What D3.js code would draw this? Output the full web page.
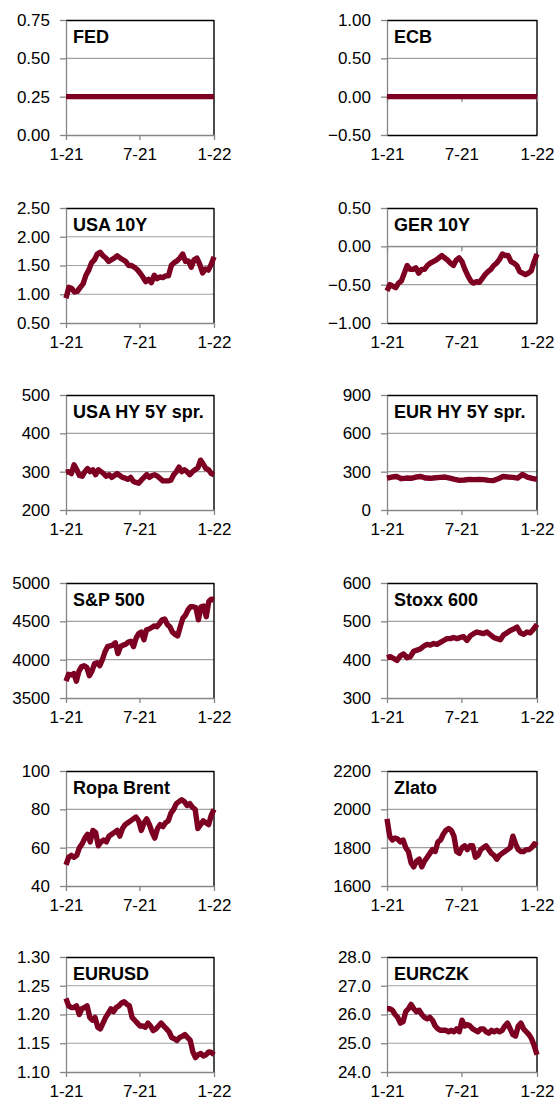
<!DOCTYPE html>
<html><head><meta charset="utf-8">
<script src="https://cdn.jsdelivr.net/npm/d3@7"></script>
<style>
body{margin:0;background:#fff}
svg{display:block}
text{font-family:"Liberation Sans",Arial,Helvetica,sans-serif}
</style>
</head><body>
<svg id="c" width="555" height="1102"></svg>
<script>
// ---------- DATA ----------
const xTickDates = ["2021-01-01", "2021-07-01", "2022-01-01"];
const xTickLabels = ["1-21", "7-21", "1-22"];
const seriesStart = "2021-01-01";
const seriesEnd = "2022-01-01";

const fedTicks = [0, 0.25, 0.5, 0.75];
const ecbTicks = [-0.5, 0, 0.5, 1.0];
const usa10yTicks = [0.5, 1.0, 1.5, 2.0, 2.5];
const ger10yTicks = [-1.0, -0.5, 0, 0.5];
const usaHyTicks = [200, 300, 400, 500];
const eurHyTicks = [0, 300, 600, 900];
const spxTicks = [3500, 4000, 4500, 5000];
const stoxxTicks = [300, 400, 500, 600];
const brentTicks = [40, 60, 80, 100];
const goldTicks = [1600, 1800, 2000, 2200];
const eurusdTicks = [1.10, 1.15, 1.20, 1.25, 1.30];
const eurczkTicks = [24, 25, 26, 27, 28];

const fed = [0.25,0.25,0.25,0.25,0.25,0.25,0.25,0.25,0.25,0.25,0.25,0.25,0.25];
const ecb = [0,0,0,0,0,0,0,0,0,0,0,0,0];
const usa10y = [0.93,1.12,1.10,1.04,1.05,1.12,1.18,1.33,1.42,1.55,1.60,1.70,1.73,1.67,1.63,1.57,1.60,1.63,1.67,1.63,1.60,1.57,1.50,1.50,1.47,1.43,1.37,1.30,1.22,1.26,1.20,1.33,1.27,1.30,1.29,1.32,1.32,1.50,1.55,1.58,1.63,1.70,1.57,1.58,1.47,1.60,1.63,1.52,1.37,1.44,1.42,1.52,1.65];
const ger10y = [-0.58,-0.50,-0.52,-0.54,-0.48,-0.45,-0.35,-0.25,-0.30,-0.30,-0.28,-0.35,-0.30,-0.30,-0.25,-0.22,-0.20,-0.18,-0.15,-0.12,-0.15,-0.18,-0.22,-0.25,-0.18,-0.15,-0.20,-0.30,-0.38,-0.45,-0.48,-0.46,-0.47,-0.42,-0.37,-0.33,-0.30,-0.25,-0.22,-0.17,-0.10,-0.12,-0.12,-0.20,-0.22,-0.25,-0.33,-0.35,-0.37,-0.35,-0.32,-0.20,-0.10];
const usaHy = [298,300,295,318,305,290,288,300,308,300,305,292,305,300,295,288,292,285,290,295,290,285,283,280,285,275,272,270,278,285,292,285,290,292,288,282,276,276,276,278,292,300,312,300,305,300,292,300,305,310,330,320,308,305,295,292];
const eurHy = [250,258,262,245,250,248,258,262,250,248,252,255,258,250,240,232,235,240,238,240,238,232,230,245,262,258,255,250,278,258,248,240];
const spx = [3720,3810,3800,3820,3720,3850,3910,3920,3900,3790,3850,3950,3960,3920,4000,4100,4170,4180,4190,4220,4080,4170,4190,4200,4230,4240,4170,4280,4340,4360,4260,4390,4400,4420,4440,4430,4470,4520,4530,4460,4430,4360,4330,4310,4430,4540,4580,4650,4690,4690,4680,4520,4690,4700,4560,4760,4790,4780];
const stoxx = [405,408,403,398,410,415,405,408,422,425,428,435,440,438,442,440,445,450,455,455,458,455,458,460,450,462,468,472,470,468,472,465,458,455,452,465,470,476,480,485,470,466,472,470,480,492];
const brent = [51,55,56,55,56,60,62,65,67,63,69,68,61,63,64,63,66,67,68,69,66,70,72,73,74,75,76,74,69,73,75,72,68,65,70,72,71,73,74,78,80,83,84,85,84,82,83,81,80,70,72,74,73,72,77,80];
const gold = [1950,1860,1840,1850,1845,1830,1840,1800,1780,1720,1700,1730,1740,1700,1730,1750,1770,1790,1780,1830,1840,1870,1890,1900,1890,1860,1780,1770,1800,1810,1790,1810,1810,1750,1760,1790,1800,1810,1790,1770,1760,1740,1760,1770,1780,1790,1800,1860,1820,1790,1780,1780,1790,1790,1800,1820,1810];
const eurusd = [1.228,1.215,1.212,1.212,1.215,1.200,1.210,1.212,1.215,1.195,1.190,1.195,1.178,1.175,1.185,1.195,1.202,1.210,1.205,1.212,1.215,1.220,1.222,1.218,1.215,1.195,1.190,1.185,1.180,1.180,1.178,1.185,1.180,1.172,1.175,1.180,1.185,1.180,1.175,1.170,1.160,1.158,1.155,1.160,1.162,1.165,1.160,1.155,1.135,1.125,1.130,1.132,1.128,1.130,1.135,1.134,1.130];
const eurczk = [26.2,26.2,26.15,26.0,25.9,25.7,25.75,26.1,26.2,26.35,26.2,26.1,26.15,26.0,25.9,25.85,25.9,25.8,25.6,25.5,25.45,25.45,25.45,25.4,25.45,25.4,25.5,25.4,25.8,25.6,25.65,25.6,25.5,25.45,25.4,25.5,25.5,25.4,25.35,25.45,25.4,25.45,25.4,25.45,25.6,25.7,25.5,25.3,25.25,25.6,25.7,25.5,25.4,25.3,25.15,24.9,24.6];

// ---------- LAYOUT ----------
const panels = [
  {title:"FED", values:fed, ticks:fedTicks, fmt:".2f", col:0, row:0},
  {title:"ECB", values:ecb, ticks:ecbTicks, fmt:".2f", col:1, row:0, zeroAxis:true},
  {title:"USA 10Y", values:usa10y, ticks:usa10yTicks, fmt:".2f", col:0, row:1},
  {title:"GER 10Y", values:ger10y, ticks:ger10yTicks, fmt:".2f", col:1, row:1, zeroAxis:true},
  {title:"USA HY 5Y spr.", values:usaHy, ticks:usaHyTicks, fmt:"d", col:0, row:2},
  {title:"EUR HY 5Y spr.", values:eurHy, ticks:eurHyTicks, fmt:"d", col:1, row:2},
  {title:"S&P 500", values:spx, ticks:spxTicks, fmt:"d", col:0, row:3},
  {title:"Stoxx 600", values:stoxx, ticks:stoxxTicks, fmt:"d", col:1, row:3},
  {title:"Ropa Brent", values:brent, ticks:brentTicks, fmt:"d", col:0, row:4},
  {title:"Zlato", values:gold, ticks:goldTicks, fmt:"d", col:1, row:4},
  {title:"EURUSD", values:eurusd, ticks:eurusdTicks, fmt:".2f", col:0, row:5},
  {title:"EURCZK", values:eurczk, ticks:eurczkTicks, fmt:".1f", col:1, row:5}
];
const colX = [66, 387];
const colW = [148, 150];
const rowY = [20, 208, 395, 583, 771, 957];
const plotH = 115;
const lineColor = "#7d0022";
const axisGray = "#868686";
const gridGray = "#a0a0a0";

const parse = d3.utcParse("%Y-%m-%d");
const t0 = parse(seriesStart), t1 = parse(seriesEnd);
const xTicks = xTickDates.map(parse);

const svg = d3.select("#c");

panels.forEach(p => {
  const w = colW[p.col];
  const g = svg.append("g").attr("transform", `translate(${colX[p.col]},${rowY[p.row]})`);
  const x = d3.scaleUtc().domain([t0, t1]).range([0, w]);
  const y = d3.scaleLinear().domain([p.ticks[0], p.ticks[p.ticks.length - 1]]).range([plotH, 0]);
  const n = p.values.length;
  const pts = p.values.map((v, i) => ({d: new Date(+t0 + (t1 - t0) * i / (n - 1)), v}));

  // gridlines
  g.append("g").selectAll("line").data(p.ticks.slice(1, -1)).join("line")
    .attr("x1", 0).attr("x2", w).attr("y1", d => y(d)).attr("y2", d => y(d))
    .attr("stroke", gridGray).attr("stroke-width", 1.2);

  // top and right border
  g.append("line").attr("x1", 0).attr("x2", w).attr("y1", 0.5).attr("y2", 0.5)
    .attr("stroke", "#000").attr("stroke-width", 1.4);
  g.append("line").attr("x1", w).attr("x2", w).attr("y1", 0).attr("y2", plotH)
    .attr("stroke", "#000").attr("stroke-width", 1.4);

  // left axis
  const ya = g.append("g").call(d3.axisLeft(y).tickValues(p.ticks).tickSize(6).tickSizeOuter(0)
    .tickPadding(10).tickFormat(d3.format(p.fmt)));
  ya.select(".domain").attr("stroke", axisGray).attr("stroke-width", 1.3);
  ya.selectAll(".tick line").attr("stroke", axisGray).attr("stroke-width", 1.3);
  ya.selectAll("text").attr("font-size", 17).attr("fill", "#000")
    .attr("font-family", '"Liberation Sans",Arial,sans-serif');

  // bottom axis (labels)
  const xa = g.append("g").attr("transform", `translate(0,${plotH})`)
    .call(d3.axisBottom(x).tickValues(xTicks).tickSize(p.zeroAxis ? 0 : 5).tickSizeOuter(0)
      .tickPadding(p.zeroAxis ? 13 : 8).tickFormat((d, i) => xTickLabels[i]));
  xa.select(".domain").attr("stroke", p.zeroAxis ? "#000" : axisGray).attr("stroke-width", 1.3);
  xa.selectAll(".tick line").attr("stroke", axisGray).attr("stroke-width", 1.3);
  xa.selectAll("text").attr("font-size", 17).attr("fill", "#000")
    .attr("font-family", '"Liberation Sans",Arial,sans-serif');

  if (p.zeroAxis) {
    const za = g.append("g").attr("transform", `translate(0,${y(0)})`)
      .call(d3.axisBottom(x).tickValues(xTicks).tickSize(5).tickSizeOuter(0).tickFormat(""));
    za.select(".domain").attr("stroke", axisGray);
    za.selectAll(".tick line").attr("stroke", axisGray).attr("stroke-width", 1.3);
  }

  // series line
  g.append("path").datum(pts)
    .attr("d", d3.line().x(d => x(d.d)).y(d => y(d.v)))
    .attr("fill", "none").attr("stroke", lineColor).attr("stroke-width", 5.4)
    .attr("stroke-linejoin", "round").attr("stroke-linecap", "butt");

  // title
  g.append("text").attr("x", 7).attr("y", 23).text(p.title)
    .attr("font-size", 18).attr("font-weight", "bold").attr("fill", "#000");
});
</script>
</body></html>
